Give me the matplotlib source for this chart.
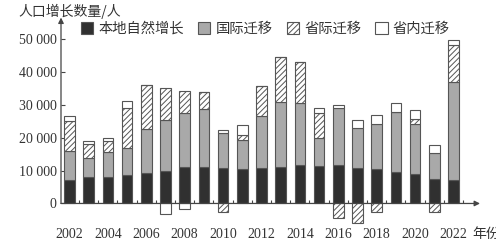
import matplotlib
matplotlib.use("Agg")
import matplotlib.pyplot as plt
from matplotlib.patches import Patch
from matplotlib.ticker import FuncFormatter
import numpy as np

years = list(range(2002, 2023))
year_labels = [str(y) for y in range(2002, 2023, 2)]

# 本地自然增长
natural = [7100, 8000, 8100, 8600, 9200, 10000, 11000, 11000, 10700, 10400, 10800,
           11200, 11700, 11500, 11700, 10700, 10400, 9700, 8850, 7450, 7150]
# 国际迁移
international = [8800, 5700, 7550, 8200, 13450, 15400, 16600, 17800, 10600, 9000, 15700,
                 19750, 18950, 8500, 17200, 12300, 13650, 18200, 15200, 7800, 29850]
# 省际迁移
interprovincial = [9200, 4300, 3350, 12200, 13350, 9600, 6600, 5100, -2500, 1400, 9200,
                   13450, 12250, 7600, -4500, -6000, -2500, 0, 1550, -2500, 11200]
# 省内迁移
intraprovincial = [1600, 1000, 1000, 2150, 0, -3200, -1800, 0, 1000, 3150, 0,
                   0, 0, 1500, 1000, 2400, 2850, 2750, 2800, 2550, 1500]

series = [
    ("本地自然增长", natural, "#303030", ""),
    ("国际迁移", international, "#a9a9a9", ""),
    ("省际迁移", interprovincial, "white", "//////"),
    ("省内迁移", intraprovincial, "white", ""),
]

CJK = ["Noto Sans CJK SC", "DejaVu Sans"]
plt.rcParams["font.family"] = ["Liberation Serif", "DejaVu Sans"]
plt.rcParams["hatch.color"] = "#555555"
plt.rcParams["hatch.linewidth"] = 0.7

EDGE = "#555555"
X0, X1 = 2001.56, 2023.38
Y0, Y1 = -7000, 56500

fig = plt.figure(figsize=(4.96, 2.43), dpi=100)
ax = fig.add_axes([61 / 496, 0.0679, 419 / 496, 0.8597])

x = np.array(years, dtype=float)
pos_bottom = np.zeros(len(years))
neg_bottom = np.zeros(len(years))
for name, vals, color, hatch in series:
    vals = np.array(vals, dtype=float)
    bottom = np.where(vals >= 0, pos_bottom, neg_bottom)
    ax.bar(x, vals, bottom=bottom, width=0.55, color=color, edgecolor=EDGE,
           linewidth=0.8, hatch=hatch, zorder=2)
    pos_bottom += np.where(vals > 0, vals, 0)
    neg_bottom += np.where(vals < 0, vals, 0)

ax.set_xlim(X0, X1)
ax.set_ylim(Y0, Y1)

for s in ax.spines.values():
    s.set_visible(False)
ax.spines["bottom"].set_position(("data", 0))

# axes drawn as arrows
arrow = dict(arrowstyle="-|>", color="#444444", lw=0.9, mutation_scale=8,
             shrinkA=0, shrinkB=0)
ax.annotate("", xy=(X1, 0), xytext=(X0, 0), arrowprops=arrow, annotation_clip=False)
ax.annotate("", xy=(X0, Y1), xytext=(X0, 0), arrowprops=arrow, annotation_clip=False)

ax.set_yticks(range(0, 50001, 10000))
ax.yaxis.set_major_formatter(FuncFormatter(lambda v, p: f"{int(v):,}".replace(",", " ")))
ax.tick_params(axis="y", direction="in", length=3, width=0.8, color="#444444",
               pad=3, labelsize=10, labelcolor="#333333")

ax.set_xticks(range(2002, 2023, 2))
ax.set_xticklabels(year_labels)
ax.set_xticks(np.arange(2002.5, 2023, 1), minor=True)
ax.tick_params(axis="x", which="major", length=0, pad=18, labelsize=10,
               labelcolor="#333333")
ax.tick_params(axis="x", which="minor", direction="in", length=2, width=0.8,
               color="#444444")

fig.text(18 / 496, 1 - 11 / 243, "人口增长数量/人", family=CJK, fontsize=10,
         color="#333333", va="center", ha="left")
fig.text(472 / 496, 1 - 234 / 243, "年份", family=CJK, fontsize=10,
         color="#333333", va="center", ha="left")

handles = [Patch(facecolor=c, edgecolor=EDGE, hatch=h, linewidth=0.8, label=n)
           for n, _, c, h in series]
fig.legend(handles=handles, loc="center left", bbox_to_anchor=(81 / 496, 1 - 29 / 243),
           ncol=4, frameon=False, borderpad=0, borderaxespad=0,
           handlelength=0.85, handleheight=0.85, handletextpad=0.36,
           columnspacing=1.0, prop={"family": CJK, "size": 10.3}, labelcolor="#333333")

fig.savefig("out.png", dpi=100)
